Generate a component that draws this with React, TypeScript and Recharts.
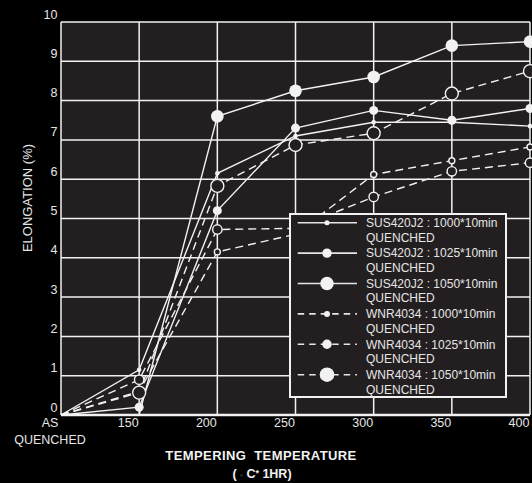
import React from "react";
import { LineChart, Line, XAxis, YAxis, CartesianGrid, Legend } from "recharts";

// tempering temperature categories (first one is the as-quenched state)
const temps = ["AS QUENCHED", "150", "200", "250", "300", "350", "400"];

// elongation (%) per series
const sus1000 = [0, 1.15, 6.15, 7.1, 7.45, 7.45, 7.35];
const sus1025 = [0, 0.2, 5.2, 7.3, 7.75, 7.5, 7.8];
const sus1050 = [0, 0, 7.6, 8.25, 8.6, 9.4, 9.5];
const wnr1000 = [0, 0.6, 4.15, 4.6, 6.12, 6.47, 6.82];
const wnr1025 = [0, 0.9, 4.72, 4.75, 5.55, 6.2, 6.42];
const wnr1050 = [0, 0.57, 5.83, 6.87, 7.17, 8.18, 8.75];

const yTicks = [0, 1, 2, 3, 4, 5, 6, 7, 8, 9, 10];

const FONT = "'Liberation Sans', Arial, sans-serif";
const WHITE = "#f2f2f2";
const TEXT = "#e6e6e6";
const PLOT_BG = "#231f20";

const series = [
  { key: "wnr1000", label: "WNR4034 : 1000*10min", values: wnr1000, dashed: true, r: 3, filled: false, legendR: 3 },
  { key: "wnr1025", label: "WNR4034 : 1025*10min", values: wnr1025, dashed: true, r: 4.7, filled: false, legendR: 4.7 },
  { key: "wnr1050", label: "WNR4034 : 1050*10min", values: wnr1050, dashed: true, r: 6.5, filled: false, legendR: 7.3 },
  { key: "sus1000", label: "SUS420J2 : 1000*10min", values: sus1000, dashed: false, r: 2.3, filled: true, legendR: 2.5 },
  { key: "sus1025", label: "SUS420J2 : 1025*10min", values: sus1025, dashed: false, r: 4.5, filled: true, legendR: 4.7 },
  { key: "sus1050", label: "SUS420J2 : 1050*10min", values: sus1050, dashed: false, r: 6.3, filled: true, legendR: 6.7 },
];

// legend order as printed in the box
const legendOrder = ["sus1000", "sus1025", "sus1050", "wnr1000", "wnr1025", "wnr1050"];

const data = temps.map((t, i) => {
  const row: any = { temp: t };
  series.forEach((s) => (row[s.key] = s.values[i]));
  return row;
});

function makeDot(r: number, filled: boolean) {
  return (props: any) => {
    const { cx, cy, value, index } = props;
    // no markers on the as-quenched origin
    if (value === 0 || cx == null || cy == null) return <g key={index} />;
    return (
      <circle
        key={index}
        cx={cx}
        cy={cy}
        r={r}
        fill={filled ? WHITE : PLOT_BG}
        stroke={WHITE}
        strokeWidth={filled ? 0 : 1.4}
      />
    );
  };
}

function XTick(props: any) {
  const { x, y, payload } = props;
  if (payload.value === "AS QUENCHED") {
    return (
      <g>
        <text x={x - 11} y={y + 12} textAnchor="middle" fill={TEXT} fontSize={12.5} fontFamily={FONT}>AS</text>
        <text x={x - 11} y={y + 29} textAnchor="middle" fill={TEXT} fontSize={12.5} fontFamily={FONT}>QUENCHED</text>
      </g>
    );
  }
  return (
    <text x={x - 11} y={y + 12} textAnchor="middle" fill={TEXT} fontSize={12.5} fontFamily={FONT}>
      {payload.value}
    </text>
  );
}

function YTick(props: any) {
  const { x, y, payload } = props;
  return (
    <text x={x} y={y - 3.5} textAnchor="end" fill={TEXT} fontSize={12.5} fontFamily={FONT}>
      {payload.value}
    </text>
  );
}

function XTitle() {
  const cx = 261;
  return (
    <g fontFamily={FONT} fontWeight="bold" fill={WHITE}>
      <text x={cx} y={460} textAnchor="middle" fontSize={13} letterSpacing={0.4} style={{ whiteSpace: "pre" }}>
        {"TEMPERING  TEMPERATURE"}
      </text>
      <text x={cx + 1} y={478} textAnchor="middle" fontSize={12.5} style={{ whiteSpace: "pre" }}>
        {"( "}
        <tspan fontSize={8} fontWeight="normal" fill="#9a9a9a">{"◦"}</tspan>
        {" C"}
        <tspan fontSize={9} dy={-2}>*</tspan>
        <tspan dy={2}>{" 1HR)"}</tspan>
      </text>
    </g>
  );
}

function YTitle() {
  const cx = 27;
  const cy = 198;
  return (
    <text
      x={cx}
      y={cy}
      transform={`rotate(-90 ${cx} ${cy})`}
      textAnchor="middle"
      dominantBaseline="central"
      fill={TEXT}
      fontSize={13}
      fontFamily={FONT}
    >
      ELONGATION (%)
    </text>
  );
}

function LegendBox() {
  const w = 218;
  const h = 185;
  return (
    <svg width={w} height={h} style={{ display: "block" }}>
      <rect x={1} y={1} width={w - 2} height={h - 2} fill={PLOT_BG} stroke={WHITE} strokeWidth={2} />
      {legendOrder.map((k, i) => {
        const s = series.find((d) => d.key === k)!;
        const cy = 9.7 + 30.4 * i;
        return (
          <g key={k}>
            <line
              x1={8.7}
              x2={68}
              y1={cy}
              y2={cy}
              stroke={TEXT}
              strokeWidth={1.6}
              strokeDasharray={s.dashed ? "6.5 5" : undefined}
            />
            <circle cx={38} cy={cy} r={s.legendR} fill={WHITE} />
            <text x={77} y={cy + 4.3} fill={TEXT} fontSize={12} fontFamily={FONT}>{s.label}</text>
            <text x={77} y={cy + 18.8} fill={TEXT} fontSize={12} fontFamily={FONT}>QUENCHED</text>
          </g>
        );
      })}
    </svg>
  );
}

export default function App() {
  return (
    <div style={{ position: "absolute", left: 0, top: 0, width: 532, height: 483, background: "#000" }}>
      <LineChart width={532} height={483} data={data} margin={{ top: 22, right: 2, bottom: 0, left: 0 }}>
        <CartesianGrid stroke={WHITE} strokeWidth={1.5} fill={PLOT_BG} fillOpacity={1} />
        <XAxis
          dataKey="temp"
          type="category"
          interval={0}
          height={68}
          tickLine={false}
          tickSize={0}
          tickMargin={0}
          axisLine={{ stroke: WHITE, strokeWidth: 2.5 }}
          tick={<XTick />}
          label={{ content: <XTitle /> }}
        />
        <YAxis
          domain={[0, 10]}
          ticks={yTicks}
          width={61}
          tickLine={false}
          tickSize={0}
          tickMargin={3.5}
          axisLine={false}
          tick={<YTick />}
          label={{ content: <YTitle /> }}
        />
        <Legend
          layout="vertical"
          align="center"
          verticalAlign="middle"
          wrapperStyle={{ left: 289, top: 213, width: 218, height: 185 }}
          content={<LegendBox />}
        />
        {series.map((s) => (
          <Line
            key={s.key}
            dataKey={s.key}
            name={s.label}
            type="linear"
            stroke={WHITE}
            strokeWidth={1.4}
            strokeDasharray={s.dashed ? "8 5" : undefined}
            dot={makeDot(s.r, s.filled)}
            activeDot={false}
            isAnimationActive={false}
          />
        ))}
      </LineChart>
    </div>
  );
}
